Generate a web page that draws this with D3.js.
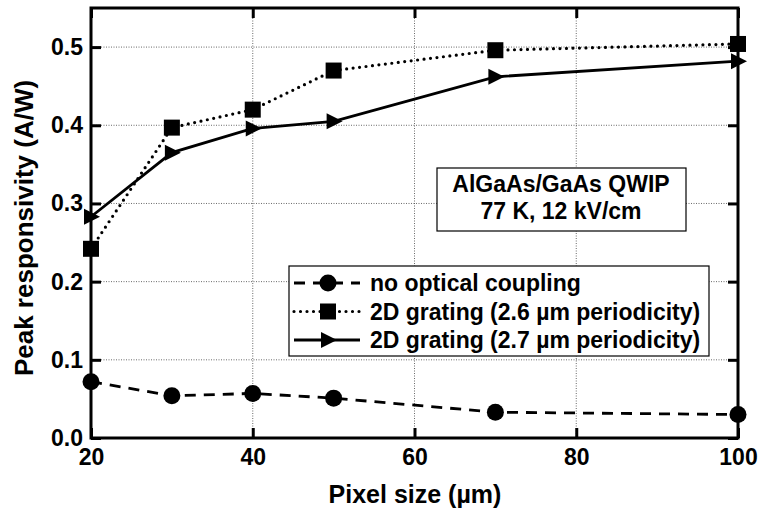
<!DOCTYPE html>
<meta charset="utf-8">
<style>
    body { margin: 0; background: white; }
    text { font-family: "Liberation Sans", Arial, sans-serif; font-weight: bold; }
</style>
<script src="https://d3js.org/d3.v7.min.js"></script>
<body>
<script>

    // pixel size (um)
    var pixelSize = [20, 30, 40, 50, 70, 100]
    var noCoupling = [0.072, 0.054, 0.057, 0.051, 0.033, 0.030]
    var grating26 = [0.242, 0.397, 0.420, 0.470, 0.496, 0.504]
    var grating27 = [0.283, 0.365, 0.396, 0.405, 0.462, 0.482]
    var seriesNames = ["no optical coupling", "2D grating (2.6 \u00b5m periodicity)", "2D grating (2.7 \u00b5m periodicity)"]
    var xTicks = [20, 40, 60, 80, 100]
    var yTicks = [0.0, 0.1, 0.2, 0.3, 0.4, 0.5]

    var width = 760
    var height = 512
    var plotL = 91, plotR = 738, plotT = 8, plotB = 438

    var svg = d3.select("body")
        .append("svg")
        .attr("width", width)
        .attr("height", height)

    var x = d3.scaleLinear().domain([20, 100]).range([plotL, plotR])
    var y = d3.scaleLinear().domain([0, 0.55]).range([plotB, plotT])

    // grid
    svg.append("g").selectAll("line")
        .data(xTicks.slice(1, -1))
        .enter().append("line")
        .attr("x1", function (d) { return x(d) }).attr("x2", function (d) { return x(d) })
        .attr("y1", plotT).attr("y2", plotB)
        .attr("stroke", "#444").attr("stroke-width", 0.8).attr("stroke-dasharray", "1,1.5")

    svg.append("g").selectAll("line")
        .data(yTicks.slice(1))
        .enter().append("line")
        .attr("x1", plotL).attr("x2", plotR)
        .attr("y1", function (d) { return y(d) }).attr("y2", function (d) { return y(d) })
        .attr("stroke", "#444").attr("stroke-width", 0.8).attr("stroke-dasharray", "1,1.5")

    // axes with inward ticks
    svg.append("g")
        .attr("transform", "translate(0," + plotB + ")")
        .call(d3.axisBottom(x).tickValues(xTicks).tickSize(-10).tickPadding(11).tickFormat(d3.format("d")))
        .call(function (g) {
            g.select(".domain").remove()
            g.selectAll("line").attr("stroke-width", 3)
            g.selectAll("text").attr("font-size", 23).attr("fill", "black")
        })

    svg.append("g")
        .attr("transform", "translate(0," + plotT + ")")
        .call(d3.axisTop(x).tickValues(xTicks).tickSize(-10).tickFormat(""))
        .call(function (g) {
            g.select(".domain").remove()
            g.selectAll("line").attr("stroke-width", 3)
        })

    svg.append("g")
        .attr("transform", "translate(" + plotL + ",0)")
        .call(d3.axisLeft(y).tickValues(yTicks).tickSize(-10).tickPadding(8).tickFormat(d3.format(".1f")))
        .call(function (g) {
            g.select(".domain").remove()
            g.selectAll("line").attr("stroke-width", 3)
            g.selectAll("text").attr("font-size", 23).attr("fill", "black")
        })

    svg.append("g")
        .attr("transform", "translate(" + plotR + ",0)")
        .call(d3.axisRight(y).tickValues(yTicks).tickSize(-10).tickFormat(""))
        .call(function (g) {
            g.select(".domain").remove()
            g.selectAll("line").attr("stroke-width", 3)
        })

    // frame
    svg.append("rect")
        .attr("x", plotL).attr("y", plotT)
        .attr("width", plotR - plotL).attr("height", plotB - plotT)
        .attr("fill", "none").attr("stroke", "black").attr("stroke-width", 3)

    var line = d3.line()
        .x(function (d) { return x(d[0]) })
        .y(function (d) { return y(d[1]) })

    var series = [
        { values: noCoupling, dash: "11,8", cap: "butt", width: 2.8, marker: "circle" },
        { values: grating26, dash: "0,6.5", cap: "round", width: 3.2, marker: "square" },
        { values: grating27, dash: null, cap: "butt", width: 2.8, marker: "triangle" }
    ]

    function drawMarker(g, type, cx, cy) {
        if (type == "circle") {
            g.append("circle").attr("cx", cx).attr("cy", cy).attr("r", 8.5).attr("fill", "black")
        } else if (type == "square") {
            g.append("rect").attr("x", cx - 8).attr("y", cy - 8).attr("width", 16).attr("height", 16).attr("fill", "black")
        } else {
            g.append("path").attr("d", "M" + (cx - 7) + "," + (cy - 8) + "L" + (cx + 9) + "," + cy + "L" + (cx - 7) + "," + (cy + 8) + "Z").attr("fill", "black")
        }
    }

    series.forEach(function (s) {
        var pts = pixelSize.map(function (p, i) { return [p, s.values[i]] })
        svg.append("path")
            .attr("d", line(pts))
            .attr("fill", "none")
            .attr("stroke", "black")
            .attr("stroke-width", s.width)
            .attr("stroke-linecap", s.cap)
            .attr("stroke-dasharray", s.dash)
        var g = svg.append("g")
        pts.forEach(function (p) { drawMarker(g, s.marker, x(p[0]), y(p[1])) })
    })

    // annotation box
    svg.append("rect")
        .attr("x", 437).attr("y", 168).attr("width", 249).attr("height", 63)
        .attr("fill", "white").attr("stroke", "black").attr("stroke-width", 1.2)
    svg.append("text").text("AlGaAs/GaAs QWIP")
        .attr("x", 561).attr("y", 192).attr("text-anchor", "middle").attr("font-size", 23)
    svg.append("text").text("77 K, 12 kV/cm")
        .attr("x", 561).attr("y", 219).attr("text-anchor", "middle").attr("font-size", 23)

    // legend
    svg.append("rect")
        .attr("x", 289).attr("y", 266).attr("width", 420).attr("height", 90)
        .attr("fill", "white").attr("stroke", "black").attr("stroke-width", 1.2)

    series.forEach(function (s, i) {
        var ly = 283 + i * 28.5
        svg.append("line")
            .attr("x1", 294).attr("x2", 360).attr("y1", ly).attr("y2", ly)
            .attr("stroke", "black")
            .attr("stroke-width", s.width)
            .attr("stroke-linecap", s.cap)
            .attr("stroke-dasharray", s.dash)
        drawMarker(svg, s.marker, 328, ly)
        svg.append("text").text(seriesNames[i])
            .attr("x", 370).attr("y", ly + 8).attr("font-size", 23)
    })

    // axis titles
    svg.append("text").text("Pixel size (\u00b5m)")
        .attr("x", 415).attr("y", 503).attr("text-anchor", "middle").attr("font-size", 25)
    svg.append("text").text("Peak responsivity (A/W)")
        .attr("transform", "translate(33,228) rotate(-90)")
        .attr("text-anchor", "middle").attr("font-size", 26)

</script>
